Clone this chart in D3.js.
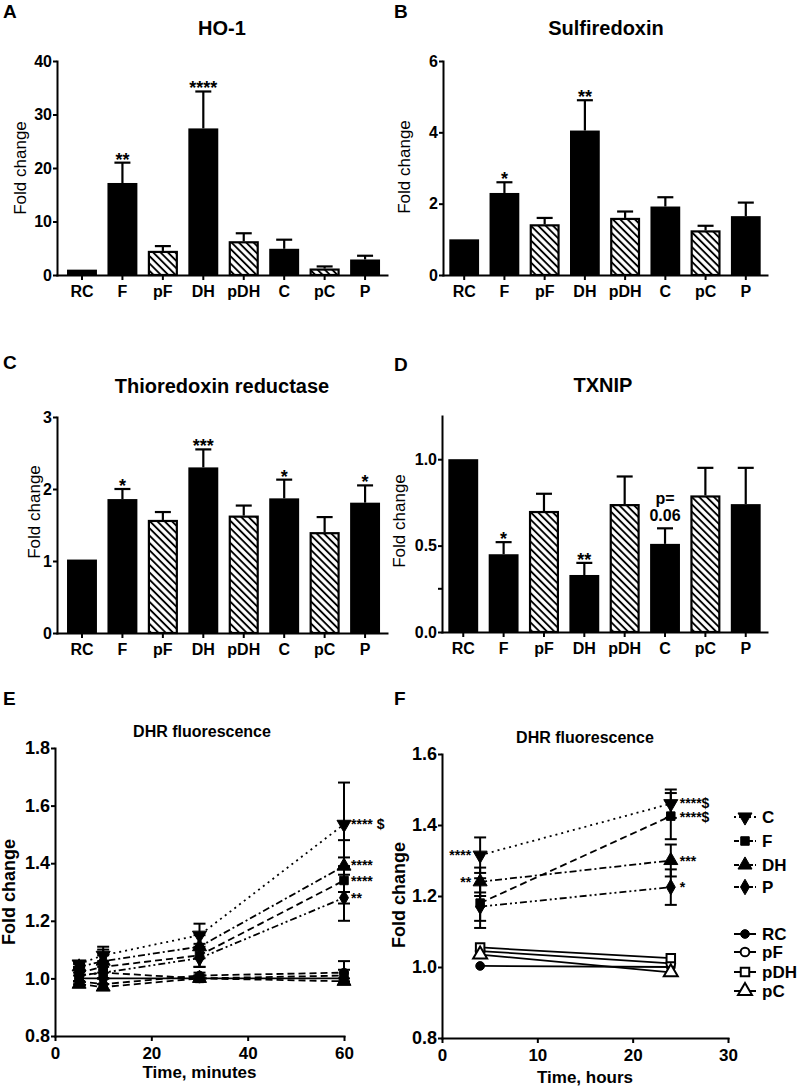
<!DOCTYPE html>
<html><head><meta charset="utf-8">
<script src="https://cdn.jsdelivr.net/npm/d3@7"></script>
<style>
body{margin:0;background:#fff}
svg{display:block}
text{font-family:'Liberation Sans',Arial,sans-serif;fill:#000}
</style>
</head><body>
<svg id="c" width="797" height="1090"></svg>
<script>
// ---------- DATA ----------
const categories = ["RC","F","pF","DH","pDH","C","pC","P"];
const hatched    = [false,false,true,false,true,false,true,false];

const ho1Values = [1.0,17.2,4.5,27.4,6.3,4.9,1.2,2.9];
const ho1Err    = [0,3.8,0.9,6.9,1.5,1.7,0.4,0.7];
const ho1Sig    = ["","**","","****","","","",""];

const srxValues = [1.0,2.3,1.42,4.05,1.6,1.92,1.25,1.65];
const srxErr    = [0,0.3,0.18,0.85,0.18,0.26,0.13,0.38];
const srxSig    = ["","*","","**","","","",""];

const trxrValues = [1.02,1.86,1.57,2.3,1.63,1.87,1.4,1.81];
const trxrErr    = [0,0.14,0.11,0.25,0.14,0.26,0.21,0.24];
const trxrSig    = ["","*","","***","","*","","*"];

const txnipValues = [1.0,0.45,0.70,0.33,0.74,0.51,0.79,0.74];
const txnipErr    = [0,0.07,0.10,0.07,0.16,0.09,0.16,0.21];
const txnipSig    = ["","*","","**","","p=|0.06","",""];

const ho1Ticks = [0,10,20,30,40];
const srxTicks = [0,2,4,6];
const trxrTicks = [0,1,2,3];
const txnipTicks = [0,0.5,1.0];

// DHR fluorescence, minutes
const timeMinutes = [5,10,30,60];
const eC   = [1.05,1.08,1.15,1.535], eCErr   = [0.01,0.03,0.04,0.145];
const eF   = [1.02,1.04,1.08,1.34],  eFErr   = [0.03,0.04,0.04,0.08];
const eDH  = [1.04,1.06,1.11,1.39],  eDHErr  = [0.02,0.04,0.04,0.09];
const eP   = [1.01,1.02,1.07,1.28],  ePErr   = [0.03,0.04,0.03,0.08];
const eRC  = [1.00,1.00,1.00,1.00],  eRCErr  = [0,0,0,0];
const epF  = [0.99,0.98,1.01,1.02],  epFErr  = [0.02,0.02,0.01,0.04];
const epDH = [1.01,1.02,1.00,1.01],  epDHErr = [0.02,0.02,0.01,0.02];
const epC  = [0.98,0.97,1.00,0.99],  epCErr  = [0.01,0.01,0.01,0.01];
const eSig = [["C","**** $"],["DH","****"],["F","****"],["P","**"]];
const minuteTicks = [0,20,40,60];
const eYTicks = [0.8,1.0,1.2,1.4,1.6,1.8];

// DHR fluorescence, hours
const timeHours = [4,24];
const fC   = [1.315,1.46],  fCErr   = [0.05,0.04];
const fF   = [1.18,1.425],  fFErr   = [0.07,0.065];
const fDH  = [1.24,1.30],   fDHErr  = [0.04,0.045];
const fP   = [1.17,1.225],  fPErr   = [0.04,0.05];
const fRC  = [1.003,1.0],   fRCErr  = [0,0];
const fpF  = [1.045,1.01],  fpFErr  = [0,0];
const fpDH = [1.055,1.025], fpDHErr = [0,0];
const fpC  = [1.035,0.985], fpCErr  = [0,0];
const fSigRight = [["C","****$"],["F","****$"],["DH","***"],["P","*"]];
const fSigLeft  = [["C","****"],["DH","**"]];
const hourTicks = [0,10,20,30];
const fYTicks = [0.8,1.0,1.2,1.4,1.6];

const seriesNames = ["C","F","DH","P","RC","pF","pDH","pC"];

// ---------- STYLE ----------
const FONT = "'Liberation Sans',Arial,sans-serif";
const style = {
  C:  {sym:"tri", rot:180, fill:true,  dash:"2,4"},
  F:  {sym:"sq",  rot:0,   fill:true,  dash:"7,4"},
  DH: {sym:"tri", rot:0,   fill:true,  dash:"7,3,2,3"},
  P:  {sym:"dia", rot:0,   fill:true,  dash:"7,3,2,3,2,3"},
  RC: {sym:"cir", rot:0,   fill:true,  dash:null},
  pF: {sym:"cir", rot:0,   fill:false, dash:null},
  pDH:{sym:"sq",  rot:0,   fill:false, dash:null},
  pC: {sym:"tri", rot:0,   fill:false, dash:null}
};
const symType = {tri:d3.symbolTriangle, sq:d3.symbolSquare, dia:d3.symbolDiamond, cir:d3.symbolCircle};
const symSize = {tri:85, sq:72, dia:70, cir:60};

const svg = d3.select("#c");
svg.append("rect").attr("width",797).attr("height",1090).attr("fill","#fff");
const defs = svg.append("defs");
const pat = defs.append("pattern").attr("id","hatch").attr("patternUnits","userSpaceOnUse")
  .attr("width",5.2).attr("height",5.2).attr("patternTransform","rotate(45)");
pat.append("rect").attr("width",5.2).attr("height",5.2).attr("fill","#fff");
pat.append("line").attr("x1",-1).attr("x2",6.2).attr("y1",2.6).attr("y2",2.6)
  .attr("stroke","#000").attr("stroke-width",1.9);

function styleAxis(sel, fs, bold){
  sel.attr("font-family",FONT).attr("font-size",fs);
  sel.selectAll("path").attr("stroke","#000").attr("stroke-width",2).attr("stroke-linecap","square");
  sel.selectAll("line").attr("stroke","#000").attr("stroke-width",2);
  sel.selectAll("text").attr("fill","#000").attr("font-weight",bold?"bold":"normal");
}

function addText(x,y,t,fs,opts={}){
  return svg.append("text").attr("x",x).attr("y",y).text(t)
    .attr("font-size",fs).attr("font-weight",opts.bold===false?"normal":"bold")
    .attr("text-anchor",opts.anchor||"start").attr("fill","#000");
}
function addYLabel(x,yc,t,fs,bold){
  svg.append("text").attr("transform",`translate(${x},${yc}) rotate(-90)`).attr("fill","#000")
    .attr("text-anchor","middle").attr("font-size",fs).attr("font-weight",bold?"bold":"normal").text(t);
}

function barPanel(o){
  const g = svg.append("g");
  const x = d3.scaleBand().domain(categories).range([o.x0,o.x1])
    .paddingInner(0.26).paddingOuter(o.po).align(o.align);
  const y = d3.scaleLinear().domain([0,o.ymax]).range([o.yb,o.yt]);
  const rows = categories.map((c,i)=>({c,v:o.values[i],e:o.err[i],h:hatched[i],s:o.sig[i]}));
  const bw = x.bandwidth();
  rows.filter(d=>d.e>0).forEach(d=>{
    const cx = x(d.c)+bw/2;
    g.append("line").attr("x1",cx).attr("x2",cx).attr("y1",y(d.v)).attr("y2",y(d.v+d.e))
      .attr("stroke","#000").attr("stroke-width",2.2);
    g.append("line").attr("x1",cx-8).attr("x2",cx+8).attr("y1",y(d.v+d.e)).attr("y2",y(d.v+d.e))
      .attr("stroke","#000").attr("stroke-width",2.2);
  });
  g.selectAll("rect.bar").data(rows).join("rect").attr("class","bar")
    .attr("x",d=>x(d.c)+(d.h?1:0)).attr("width",d=>bw-(d.h?2:0))
    .attr("y",d=>y(d.v)+(d.h?1:0)).attr("height",d=>y(0)-y(d.v)-(d.h?1:0))
    .attr("fill",d=>d.h?"url(#hatch)":"#000")
    .attr("stroke",d=>d.h?"#000":"none").attr("stroke-width",2.2);
  rows.filter(d=>d.s).forEach(d=>{
    const cx = x(d.c)+bw/2, top = y(d.v+d.e);
    if(d.s.includes("|")){
      const parts = d.s.split("|");
      addText(cx,top-24,parts[0],16,{anchor:"middle"});
      addText(cx,top-7,parts[1],16,{anchor:"middle"});
    } else {
      addText(cx,top+3,d.s,18,{anchor:"middle"});
    }
  });
  const ya = d3.axisLeft(y).tickValues(o.ticks).tickFormat(o.fmt).tickSize(4).tickPadding(1).tickSizeOuter(0);
  const yg = svg.append("g").attr("transform",`translate(${o.x0},0)`).call(ya);
  styleAxis(yg,16,true);
  if(o.minor){
    o.minor.forEach(v=>svg.append("line").attr("x1",o.x0-4).attr("x2",o.x0).attr("y1",y(v)).attr("y2",y(v))
      .attr("stroke","#000").attr("stroke-width",2));
  }
  const xa = d3.axisBottom(x).tickSize(5).tickPadding(6).tickSizeOuter(0);
  const xg = svg.append("g").attr("transform",`translate(0,${o.yb})`).call(xa);
  styleAxis(xg,16,true);
  addText(o.tx,o.ty,o.title,20,{anchor:"middle"});
  addText(o.lx,o.ly,o.letter,19);
  addYLabel(o.ylx,o.yly,"Fold change",17,false);
}

barPanel({x0:57,x1:387,yt:61,yb:275,ymax:40,ticks:ho1Ticks,fmt:d3.format("d"),po:0.21,align:0.59,
  values:ho1Values,err:ho1Err,sig:ho1Sig,title:"HO-1",tx:222,ty:35,letter:"A",lx:3,ly:18,ylx:26,yly:168});
barPanel({x0:443,x1:767,yt:61,yb:275,ymax:6,ticks:srxTicks,fmt:d3.format("d"),po:0.157,align:0.5,
  values:srxValues,err:srxErr,sig:srxSig,title:"Sulfiredoxin",tx:606,ty:35,letter:"B",lx:394,ly:18,ylx:410,yly:167});
barPanel({x0:57,x1:387,yt:417,yb:633,ymax:3,ticks:trxrTicks,fmt:d3.format("d"),po:0.21,align:0.59,
  values:trxrValues,err:trxrErr,sig:trxrSig,title:"Thioredoxin reductase",tx:222,ty:393,letter:"C",lx:3,ly:369,ylx:40,yly:512});
barPanel({x0:442,x1:767,yt:416,yb:632,ymax:1.25,ticks:txnipTicks,fmt:d3.format(".1f"),po:0.157,align:0.5,minor:[0.25],
  values:txnipValues,err:txnipErr,sig:txnipSig,title:"TXNIP",tx:603,ty:392,letter:"D",lx:394,ly:371,ylx:405,yly:521});

function linePanel(o){
  const g = svg.append("g");
  const x = d3.scaleLinear().domain([0,o.xmax]).range([o.x0,o.x1]);
  const y = d3.scaleLinear().domain([0.8,o.ymax]).range([o.yb,o.yt]);
  const order = ["RC","pF","pDH","pC","P","F","DH","C"];
  const ser = order.map(n=>({n,st:style[n],pts:o.times.map((t,i)=>({t,m:o.mean[n][i],e:o.err[n][i]}))}));
  const line = d3.line().x(d=>x(d.t)).y(d=>y(d.m));
  ser.forEach(s=>{
    const dash = o.dashOverride && o.dashOverride[s.n]!==undefined ? o.dashOverride[s.n] : s.st.dash;
    g.append("path").attr("d",line(s.pts)).attr("fill","none").attr("stroke","#000")
      .attr("stroke-width",1.8).attr("stroke-dasharray",dash);
  });
  ser.forEach(s=>s.pts.filter(p=>p.e>0).forEach(p=>{
    const cx=x(p.t);
    g.append("line").attr("x1",cx).attr("x2",cx).attr("y1",y(p.m-p.e)).attr("y2",y(p.m+p.e)).attr("stroke","#000").attr("stroke-width",2);
    [p.m-p.e,p.m+p.e].forEach(v=>g.append("line").attr("x1",cx-6).attr("x2",cx+6).attr("y1",y(v)).attr("y2",y(v)).attr("stroke","#000").attr("stroke-width",2));
  }));
  ser.forEach(s=>s.pts.forEach(p=>{
    const filled = o.allFilled ? true : s.st.fill;
    g.append("path").attr("d",d3.symbol(symType[s.st.sym],symSize[s.st.sym])())
      .attr("transform",`translate(${x(p.t)},${y(p.m)}) rotate(${s.st.rot})`)
      .attr("fill",filled?"#000":"#fff").attr("stroke","#000").attr("stroke-width",filled?1:2);
  }));
  o.sigs.forEach(a=>{
    const i = a.idx, n=a.name;
    addText(x(o.times[i])+a.dx, y(o.mean[n][i])+5+(a.dy||0), a.text, 14, {anchor:a.anchor});
  });
  const ya = d3.axisLeft(y).tickValues(o.yticks).tickFormat(d3.format(".1f")).tickSize(4).tickPadding(1).tickSizeOuter(0);
  styleAxis(svg.append("g").attr("transform",`translate(${o.x0},0)`).call(ya),18,true);
  const xa = d3.axisBottom(x).tickValues(o.xticks).tickFormat(d3.format("d")).tickSize(5).tickPadding(o.xpad).tickSizeOuter(0);
  styleAxis(svg.append("g").attr("transform",`translate(0,${o.yb})`).call(xa),17,true);
  addText(o.tx,o.ty,"DHR fluorescence",16,{anchor:"middle"});
  addText(o.lx,o.ly,o.letter,19);
  addYLabel(o.ylx,o.yly,"Fold change",18,true);
  addText((o.x0+o.x1)/2,o.xly,o.xlabel,17,{anchor:"middle"});
}

const eMean = {C:eC,F:eF,DH:eDH,P:eP,RC:eRC,pF:epF,pDH:epDH,pC:epC};
const eErrs = {C:eCErr,F:eFErr,DH:eDHErr,P:ePErr,RC:eRCErr,pF:epFErr,pDH:epDHErr,pC:epCErr};
linePanel({x0:55,x1:344,xmax:60,yt:748,yb:1036,ymax:1.8,times:timeMinutes,mean:eMean,err:eErrs,
  allFilled:true,dashOverride:{pF:"7,4",pDH:"7,4",pC:"7,4"},
  sigs:eSig.map(([n,t])=>({name:n,text:t,idx:3,dx:7,anchor:"start",dy:n==="DH"?-1:(n==="F"?1:0)})),
  yticks:eYTicks,xticks:minuteTicks,xpad:6,tx:202,ty:737,letter:"E",lx:3,ly:705,ylx:15,yly:892,
  xlabel:"Time, minutes",xly:1078});

const fMean = {C:fC,F:fF,DH:fDH,P:fP,RC:fRC,pF:fpF,pDH:fpDH,pC:fpC};
const fErrs = {C:fCErr,F:fFErr,DH:fDHErr,P:fPErr,RC:fRCErr,pF:fpFErr,pDH:fpDHErr,pC:fpCErr};
linePanel({x0:442,x1:728,xmax:30,yt:754,yb:1038,ymax:1.6,times:timeHours,mean:fMean,err:fErrs,
  allFilled:false,
  sigs:fSigRight.map(([n,t])=>({name:n,text:t,idx:1,dx:9,anchor:"start",dy:n==="C"?-1:(n==="F"?1:0)}))
    .concat(fSigLeft.map(([n,t])=>({name:n,text:t,idx:0,dx:-9,anchor:"end"}))),
  yticks:fYTicks,xticks:hourTicks,xpad:6,tx:585,ty:743,letter:"F",lx:394,ly:705,ylx:405,yly:895,
  xlabel:"Time, hours",xly:1083});

// legend
const legendRows = [817,841,865,887,934,952,972,991];
seriesNames.forEach((n,i)=>{
  const st = style[n], yy = legendRows[i];
  svg.append("line").attr("x1",734).attr("x2",756).attr("y1",yy).attr("y2",yy)
    .attr("stroke","#000").attr("stroke-width",2).attr("stroke-dasharray",st.dash?(n==="C"?"2,3":"5,2"):null);
  svg.append("path").attr("d",d3.symbol(symType[st.sym],symSize[st.sym])())
    .attr("transform",`translate(745,${yy}) rotate(${st.rot})`)
    .attr("fill",st.fill?"#000":"#fff").attr("stroke","#000").attr("stroke-width",st.fill?1:2);
  addText(762,yy+6,n,17);
});
</script>
</body></html>
